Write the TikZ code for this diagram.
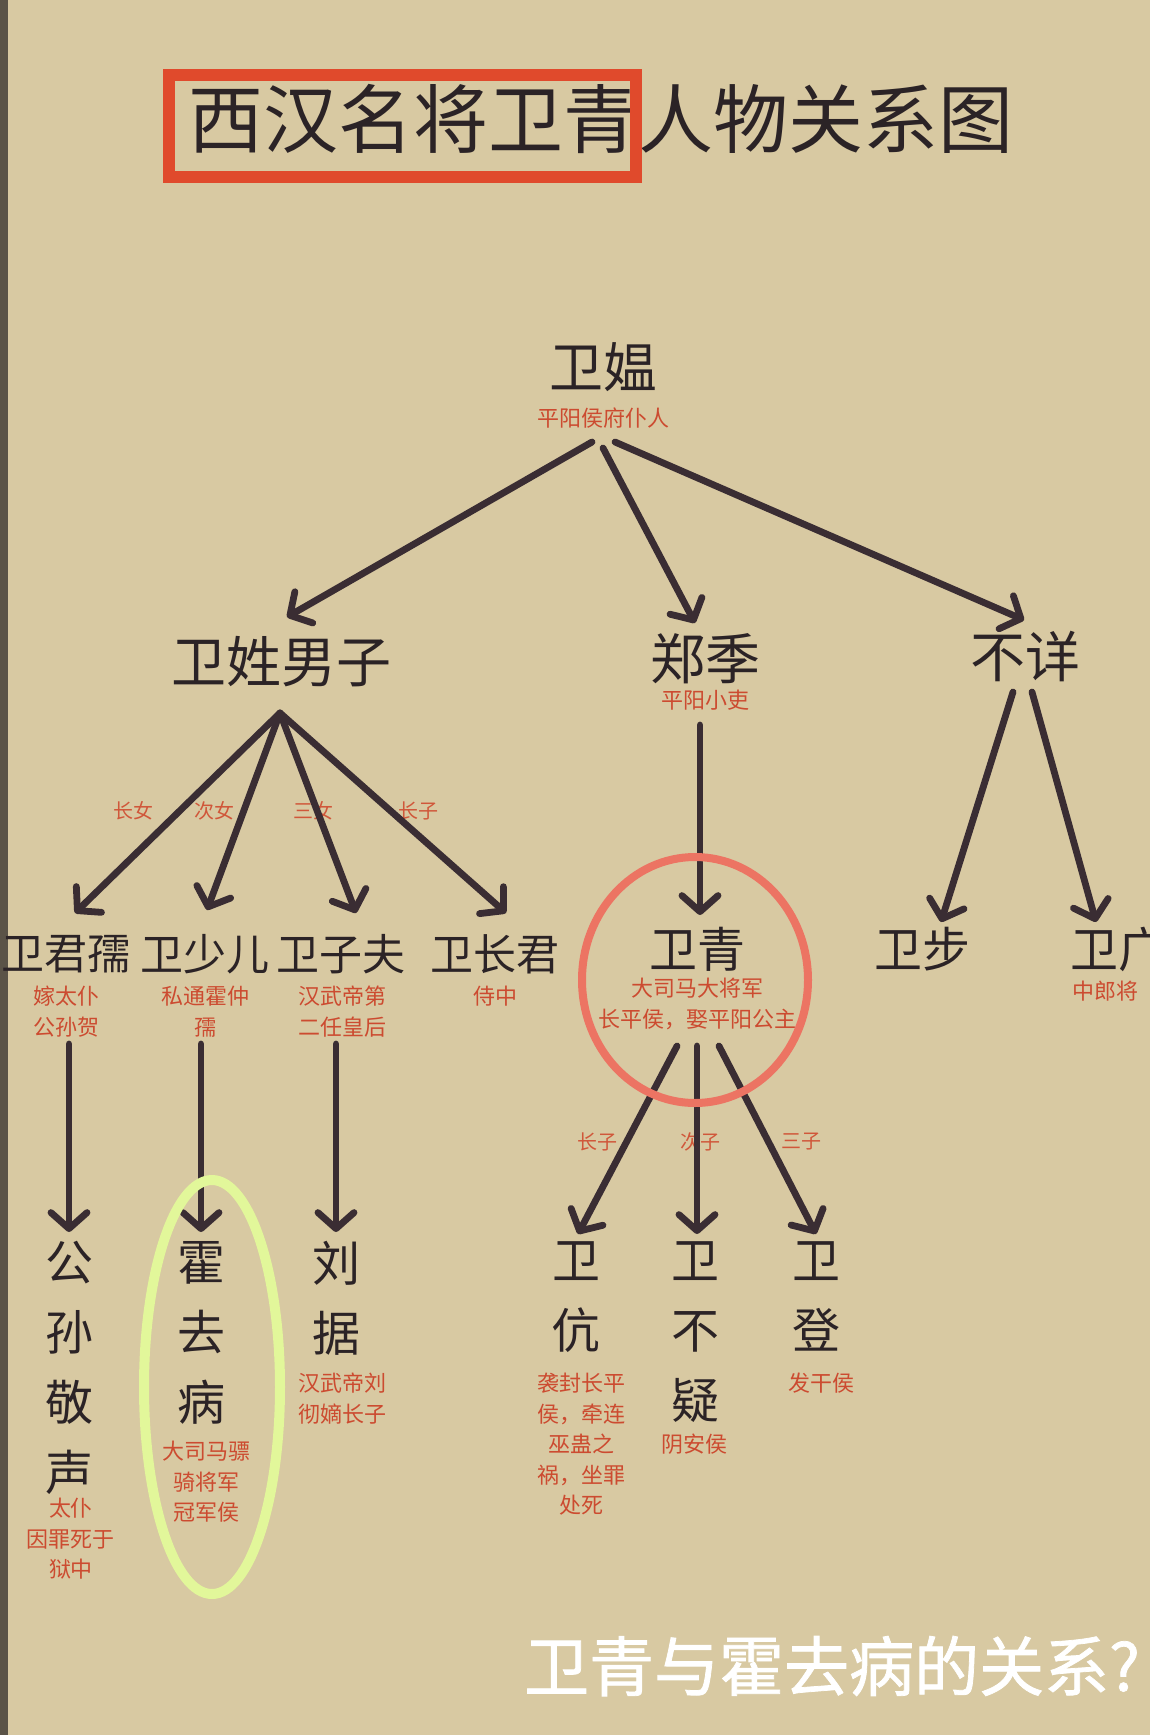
\documentclass[tikz,border=0pt]{standalone}
\usepackage{fontspec}
\setmainfont{Noto Sans CJK SC}
\newfontfamily\cjkbold[FakeBold=1.2]{Noto Sans CJK SC}
\usetikzlibrary{arrows.meta,calc}
\definecolor{bgc}{HTML}{D8C9A2}
\definecolor{stripc}{HTML}{5A5347}
\definecolor{ink}{HTML}{2B2326}
\definecolor{arrc}{HTML}{3A2D33}
\definecolor{redt}{HTML}{CC4B30}
\definecolor{labc}{HTML}{D0573A}
\definecolor{boxc}{HTML}{E04A2C}
\definecolor{circc}{HTML}{EC7463}
\definecolor{greenc}{HTML}{E2F79A}
\begin{document}
\begin{tikzpicture}[x=1pt,y=-1pt,
  big/.style={inner sep=0pt, text=ink, font=\fontsize{#1}{#1}\selectfont},
  vert/.style={inner sep=0pt, text=ink, align=center, anchor=north, font=\fontsize{48}{70}\selectfont},
  sub/.style={inner sep=0pt, text=redt, align=center, font=\fontsize{22}{30.5}\selectfont},
  lab/.style={inner sep=0pt, text=labc, font=\fontsize{20}{20}\selectfont},
  arr/.style={draw=arrc, line width=6.8pt, line cap=round, -{Straight Barb[length=16pt,width=36pt,round]}}]
\useasboundingbox (0,0) rectangle (1150,1735);
\clip (0,0) rectangle (1150,1735);
\fill[bgc] (0,0) rectangle (1150,1735);
\fill[stripc] (0,0) rectangle (8,1735);

% title
\node[big=75] (title) at (601,119) {西汉名将卫青人物关系图};
\draw[boxc, line width=12pt] (169,75) rectangle (636,177);

% generation 1
\node[big=54] (wy) at (603,367) {卫媪};
\node[sub] (wysub) at (603,418) {平阳侯府仆人};

% generation 2
\node[big=55] (xm) at (281,662) {卫姓男子};
\node[big=55] (zj) at (705,659) {郑季};
\node[sub] (zjsub) at (705,700) {平阳小吏};
\node[big=55] (bx) at (1025,656) {不详};

% generation 3
\node[big=43] (d1) at (66,954) {卫君孺};
\node[sub, anchor=north] (d1sub) at (66,986) {嫁太仆\\公孙贺};
\node[big=43] (d2) at (205,954) {卫少儿};
\node[sub, anchor=north] (d2sub) at (205,986) {私通霍仲\\孺};
\node[big=43] (d3) at (341,954) {卫子夫};
\node[sub, anchor=north] (d3sub) at (342,986) {汉武帝第\\二任皇后};
\node[big=43] (d4) at (495,954) {卫长君};
\node[sub, anchor=north] (d4sub) at (495,986) {侍中};
\node[big=48] (wq) at (697,949) {卫青};
\node[sub, anchor=north] (wqsub) at (697,978) {大司马大将军\\长平侯，娶平阳公主};
\node[big=48] (wb) at (922,949) {卫步};
\node[big=48] (wg) at (1118,949) {卫广};
\node[sub] (wgsub) at (1105,991) {中郎将};

% generation 4
\node[vert] (gs) at (69,1241) {公\\孙\\敬\\声};
\node[sub, anchor=north] (gssub) at (71,1498) {太仆\\因罪死于\\狱中};
\node[vert] (hq) at (201,1241) {霍\\去\\病};
\node[sub, anchor=north] (hqsub) at (206,1441) {大司马骠\\骑将军\\冠军侯};
\node[vert] (lj) at (336,1241) {刘\\据};
\node[sub, anchor=north] (ljsub) at (342,1373) {汉武帝刘\\彻嫡长子};
\node[vert] (wk) at (576,1241) {卫\\伉};
\node[sub, anchor=north] (wksub) at (581,1373) {袭封长平\\侯，牵连\\巫蛊之\\祸，坐罪\\处死};
\node[vert] (wby) at (695,1241) {卫\\不\\疑};
\node[sub, anchor=north] (wbysub) at (694,1434) {阴安侯};
\node[vert] (wd) at (816,1241) {卫\\登};
\node[sub, anchor=north] (wdsub) at (821,1373) {发干侯};

% edge labels
\node[lab] (l1) at (133,811) {长女};
\node[lab] (l2) at (214,811) {次女};
\node[lab] (l3) at (313,811) {三女};
\node[lab] (l4) at (418,811) {长子};
\node[lab] (l5) at (597,1142) {长子};
\node[lab] (l6) at (700,1142) {次子};
\node[lab] (l7) at (801,1142) {三子};

% arrows
\draw[arr] ($(wy)+(-11,75)$) -- ($(xm)+(6,-45)$);
\draw[arr] ($(wy)+(0,81)$) -- ($(zj)+(-10,-36)$);
\draw[arr] ($(wy)+(12,75)$) -- ($(bx)+(-1,-36)$);

\draw[arr] ($(xm)+(-1,51)$) -- ($(d1)+(9,-41)$);
\draw[arr] ($(xm)+(-1,51)$) -- ($(d2)+(2,-44)$);
\draw[arr] ($(xm)+(-1,51)$) -- ($(d3)+(15,-41)$);
\draw[arr] ($(xm)+(-1,51)$) -- ($(d4)+(11,-41)$);

\draw[arr] ($(zj)+(-5,66)$) -- ($(wq)+(3,-34)$);
\draw[arr] ($(bx)+(-12,36)$) -- ($(wb)+(19,-27)$);
\draw[arr] ($(bx)+(7,36)$) -- ($(wg)+(-22,-27)$);

\draw[arr] ($(d1)+(3,90)$) -- ($(gs.north)+(0,-9)$);
\draw[arr] ($(d2)+(-4,90)$) -- ($(hq.north)+(0,-9)$);
\draw[arr] ($(d3)+(-5,90)$) -- ($(lj.north)+(0,-9)$);

\draw[arr] ($(wq)+(-20,97)$) -- ($(wk.north)+(2,-7)$);
\draw[arr] ($(wq)+(0,97)$) -- ($(wby.north)+(2,-7)$);
\draw[arr] ($(wq)+(22,97)$) -- ($(wd.north)+(0,-7)$);

% highlights
\draw[circc, line width=8pt] (695,980) ellipse [x radius=113, y radius=123];
\draw[greenc, line width=10pt] (212,1387) ellipse [x radius=68, y radius=207];

% bottom caption
\node[inner sep=0pt, text=white, font=\cjkbold\fontsize{65}{65}\selectfont] (cap) at (832,1666) {卫青与霍去病的关系?};
\end{tikzpicture}
\end{document}
